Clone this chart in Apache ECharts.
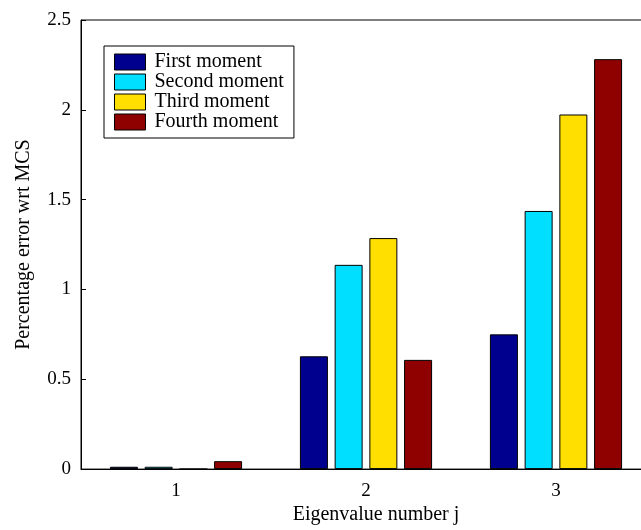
<!DOCTYPE html>
<html>
<head>
<meta charset="utf-8">
<script src="https://cdn.jsdelivr.net/npm/echarts@6/dist/echarts.min.js"></script>
<style>
  html, body { margin: 0; padding: 0; background: #fff; overflow: hidden; }
  /* 图比窗口宽，右边框在窗口外（与原图一致） */
  #chart { width: 660px; height: 530px; }
</style>
</head>
<body>
<div id="chart"></div>
<script>
// 数据
var categories = ["1", "2", "3"];
var firstMoment = [0.013, 0.628, 0.75];
var secondMoment = [0.013, 1.137, 1.437];
var thirdMoment = [0, 1.286, 1.974];
var fourthMoment = [0.044, 0.608, 2.282];
var seriesNames = ["First moment", "Second moment", "Third moment", "Fourth moment"];
var seriesColors = ["#00008F", "#00DFFF", "#FFDF00", "#8F0000"];

var font = "Liberation Serif";

function makeBar(i, values) {
  return {
    name: seriesNames[i],
    type: "bar",
    data: values,
    barWidth: 28,
    barGap: "24%",
    itemStyle: { color: seriesColors[i], borderColor: "#000", borderWidth: 1 },
  };
}

var myChart = echarts.init(document.getElementById("chart"));
myChart.setOption({
  animation: false,
  backgroundColor: "#fff",
  grid: {
    left: 81,
    top: 20,
    width: 570,
    height: 450,
    show: true,
    borderColor: "#000",
    borderWidth: 1,
  },
  legend: {
    orient: "vertical",
    left: 104,
    top: 46,
    padding: [6, 10, 6, 10],
    itemWidth: 31,
    itemHeight: 16,
    itemGap: 0,
    icon: "rect",
    borderColor: "#000",
    borderWidth: 1,
    backgroundColor: "#fff",
    itemStyle: { borderColor: "#000", borderWidth: 1 },
    textStyle: { fontFamily: font, fontSize: 20, color: "#000", lineHeight: 20, padding: [0, 0, 0, 4] },
    data: seriesNames,
  },
  xAxis: {
    type: "category",
    data: categories,
    name: "Eigenvalue number j",
    nameLocation: "middle",
    nameGap: 35,
    nameTextStyle: { fontFamily: font, fontSize: 20, color: "#000", padding: [0, 0, 0, 20] },
    axisLine: { lineStyle: { color: "#000", width: 1 } },
    axisTick: { alignWithLabel: true, inside: true, length: 4, lineStyle: { color: "#000" } },
    axisLabel: { fontFamily: font, fontSize: 19, color: "#000", margin: 12 },
    splitLine: { show: false },
  },
  yAxis: {
    type: "value",
    min: 0,
    max: 2.5,
    interval: 0.5,
    name: "Percentage error wrt MCS",
    nameLocation: "middle",
    nameGap: 47,
    nameTextStyle: { fontFamily: font, fontSize: 20, color: "#000" },
    axisLine: { show: true, lineStyle: { color: "#000", width: 1 } },
    axisTick: { show: true, inside: true, length: 5, lineStyle: { color: "#000" } },
    axisLabel: { fontFamily: font, fontSize: 19, color: "#000", margin: 10 },
    splitLine: { show: false },
  },
  series: [
    makeBar(0, firstMoment),
    makeBar(1, secondMoment),
    makeBar(2, thirdMoment),
    makeBar(3, fourthMoment),
  ],
});
</script>
</body>
</html>
